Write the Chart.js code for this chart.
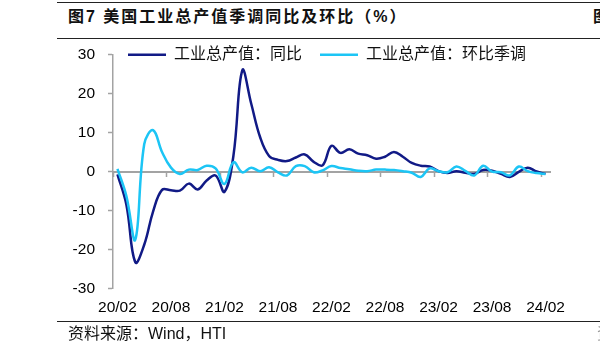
<!DOCTYPE html>
<html><head><meta charset="utf-8">
<script src="https://cdn.jsdelivr.net/npm/chart.js@4.4.1/dist/chart.umd.min.js"></script>
<style>
html,body{margin:0;padding:0;background:#fff;width:600px;height:353px;overflow:hidden;position:relative;font-family:"Liberation Sans","Noto Sans CJK SC",sans-serif;}
.rule{position:absolute;left:57px;right:0;height:0;border-top:1.5px solid #222;}
.txt{position:absolute;white-space:nowrap;color:#111;}
#title{left:68px;top:6px;font-size:16px;font-weight:bold;letter-spacing:2px;line-height:22px;}
#src{left:68px;top:324px;font-size:16px;line-height:20px;}
#wrap{position:absolute;left:0;top:0;width:600px;height:330px;}
</style></head><body>
<div class="rule" style="top:2px"></div>
<div class="txt" id="title">图7 美国工业总产值季调同比及环比（%）</div>
<div class="txt" style="left:593px;top:6px;font-size:16px;font-weight:bold;line-height:22px;">图8</div>
<div class="rule" style="top:38px"></div>
<div id="wrap"><canvas id="c"></canvas></div>
<div class="rule" style="top:321px"></div>
<div class="txt" id="src">资料来源：Wind，HTI</div>
<div class="txt" style="left:597px;top:324px;font-size:16px;line-height:20px;color:#999;">资</div>
<script>
// ---- data ----
const categories = [
 '20/02','20/03','20/04','20/05','20/06','20/07','20/08','20/09','20/10','20/11','20/12',
 '21/01','21/02','21/03','21/04','21/05','21/06','21/07','21/08','21/09','21/10','21/11','21/12',
 '22/01','22/02','22/03','22/04','22/05','22/06','22/07','22/08','22/09','22/10','22/11','22/12',
 '23/01','23/02','23/03','23/04','23/05','23/06','23/07','23/08','23/09','23/10','23/11','23/12',
 '24/01','24/02'];
const seriesNames = ['工业总产值：同比', '工业总产值：环比季调'];
const yoy = [-0.7,-8.5,-23.3,-18.8,-10.2,-4.7,-4.8,-4.9,-3.1,-4.6,
 -2.3,-1.0,-5.2,4.0,26.0,17.4,8.8,4.0,3.0,2.7,
 3.6,4.4,2.5,1.6,6.6,4.8,5.7,4.6,4.2,3.3,
 3.8,5.0,3.8,2.2,1.5,1.3,0.1,-0.4,0.1,-0.3,
 -0.6,0.4,0.2,-0.6,-1.4,-0.1,1.0,0.0,-0.6];
const mom = [0.7,-6.3,-17.5,7.0,10.6,5.0,1.0,-0.6,0.5,0.4,
 1.5,0.8,-3.2,2.4,-0.2,1.0,0.1,1.1,-0.2,-1.0,
 1.4,1.4,-0.2,0.3,1.4,0.9,0.6,0.2,0.1,0.5,
 0.5,0.4,0.1,-0.3,-1.4,0.8,0.1,-0.2,1.3,0.2,
 -1.0,1.5,0.0,-0.2,-1.0,1.3,0.1,-0.4,-0.6];
const yMin = -30, yMax = 30, yStep = 10;
const labelEvery = 6;

// ---- style ----
const FONT = "'Liberation Sans', 'Noto Sans CJK SC', sans-serif";
const AXIS_GRAY = '#a3a3a3';
const DARK = '#111a86';
const LIGHT = '#1cc5f5';

const legendOverlay = {
  id: 'legendOverlay',
  afterLayout(chart) {
    const lg = chart.legend, ca = chart.chartArea;
    if (!lg) return;
    const pad = lg.options.labels.padding;
    const fs = 16;
    lg.top = ca.top - pad - fs / 2;
    lg.height = fs + 2 * pad;
    lg.bottom = lg.top + lg.height;
    lg.left = ca.left + 15 - pad;
    lg.right = chart.width;
    lg.width = lg.right - lg.left;
  }
};

new Chart(document.getElementById('c'), {
  type: 'line',
  data: {
    labels: categories,
    datasets: [
      {label: seriesNames[0], data: yoy, borderColor: DARK, backgroundColor: DARK, borderWidth: 2.5,
       pointRadius: 0, tension: 0.4, order: 1, xAxisID: 'x', yAxisID: 'y'},
      {label: seriesNames[1], data: mom, borderColor: LIGHT, backgroundColor: LIGHT, borderWidth: 2.5,
       pointRadius: 0, tension: 0.4, order: 0, xAxisID: 'x', yAxisID: 'y'}
    ]
  },
  options: {
    responsive: true, maintainAspectRatio: false, animation: false,
    events: [],
    layout: {padding: {left: 73, right: 50, top: 53.7, bottom: 3}},
    plugins: {
      legend: {
        display: true, position: 'top', align: 'start', maxHeight: 1,
        labels: {usePointStyle: true, pointStyle: 'line', pointStyleWidth: 38, padding: 18,
                 color: '#111', font: {family: FONT, size: 16},
                 sort: (a, b) => a.datasetIndex - b.datasetIndex}
      },
      tooltip: {enabled: false}
    },
    scales: {
      x: {
        type: 'category', axis: 'x', position: {y: 0}, offset: true,
        grid: {display: true, drawOnChartArea: false, drawTicks: true, tickLength: 4, offset: true,
               tickWidth: 1.5,
               tickColor: (c) => (c.index % labelEvery === 0 ? AXIS_GRAY : 'rgba(0,0,0,0)')},
        border: {display: true, color: AXIS_GRAY, width: 2},
        ticks: {display: false}
      },
      x2: {
        type: 'category', axis: 'x', position: 'bottom', labels: categories, offset: true,
        grid: {display: false, drawTicks: false},
        border: {display: false},
        ticks: {autoSkip: false, maxRotation: 0, padding: 10, color: '#000',
                font: {family: FONT, size: 15.5},
                callback: (v, i) => (i % labelEvery === 0 ? categories[i] : '')}
      },
      y: {
        min: yMin, max: yMax,
        ticks: {stepSize: yStep, padding: 13, color: '#000', font: {family: FONT, size: 15.5}},
        grid: {drawOnChartArea: false, tickLength: 5, tickColor: AXIS_GRAY, tickWidth: 1.5},
        border: {color: AXIS_GRAY, width: 1.5},
        afterFit: (s) => { s.width = 40; }
      }
    }
  },
  plugins: [legendOverlay]
});
</script>
</body></html>
